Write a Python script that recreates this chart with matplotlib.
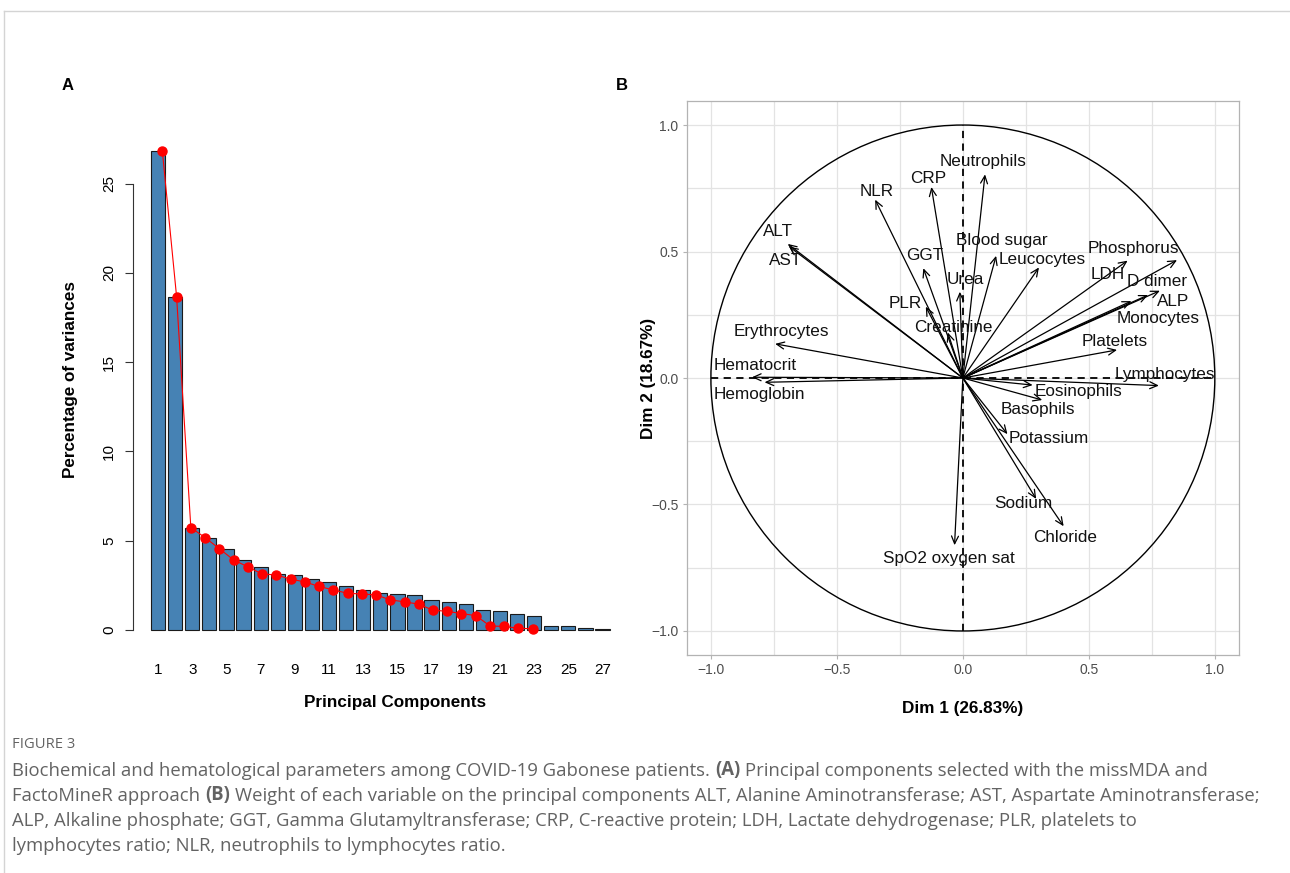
import matplotlib.pyplot as plt
import matplotlib.patches as mpatches
import numpy as np

plt.rcParams['font.family'] = ['Liberation Sans', 'DejaVu Sans']

# panel A: percentage of variance per principal component
components = np.arange(1, 28)
variances = [26.83, 18.67, 5.73, 5.17, 4.55, 3.92, 3.53, 3.13, 3.08, 2.84,
             2.69, 2.43, 2.24, 2.05, 2.01, 1.96, 1.68, 1.57, 1.44, 1.10,
             1.04, 0.91, 0.80, 0.22, 0.19, 0.09, 0.06]

# panel B: variable coordinates on Dim 1 / Dim 2
variables = ["Neutrophils", "CRP", "NLR", "ALT", "AST", "GGT", "Blood sugar",
             "Leucocytes", "Urea", "PLR", "Creatinine", "Phosphorus", "LDH",
             "D dimer", "ALP", "Monocytes", "Platelets", "Erythrocytes",
             "Hematocrit", "Hemoglobin", "Lymphocytes", "Eosinophils",
             "Basophils", "Potassium", "Sodium", "Chloride", "SpO2 oxygen sat"]
dim1 = [0.088, -0.125, -0.348, -0.695, -0.690, -0.157, 0.132, 0.302, -0.012,
        -0.147, -0.060, 0.850, 0.654, 0.782, 0.735, 0.669, 0.612, -0.745,
        -0.837, -0.787, 0.778, 0.277, 0.315, 0.177, 0.291, 0.400, -0.033]
dim2 = [0.805, 0.755, 0.705, 0.530, 0.520, 0.434, 0.483, 0.437, 0.341,
        0.282, 0.180, 0.466, 0.464, 0.345, 0.328, 0.304, 0.111, 0.135,
        0.003, -0.017, -0.030, -0.028, -0.087, -0.222, -0.478, -0.586, -0.661]
# where the (repelled) labels sit
label_x = [0.082, -0.139, -0.343, -0.735, -0.705, -0.151, 0.153, 0.316, 0.008,
           -0.230, -0.036, 0.676, 0.577, 0.769, 0.835, 0.775, 0.603, -0.719,
           -0.826, -0.809, 0.800, 0.458, 0.298, 0.340, 0.241, 0.404, -0.054]
label_y = [0.857, 0.788, 0.739, 0.579, 0.466, 0.483, 0.543, 0.469, 0.390,
           0.295, 0.199, 0.510, 0.411, 0.381, 0.304, 0.236, 0.144, 0.185,
           0.049, -0.066, 0.012, -0.053, -0.123, -0.239, -0.497, -0.630, -0.714]

W, H = 1290, 873
fig = plt.figure(figsize=(W / 100, H / 100), dpi=100)


def px_axes(left, top, right, bottom):
    return fig.add_axes([left / W, 1 - bottom / H, (right - left) / W, (bottom - top) / H])


# page frame
fig.add_artist(plt.Line2D([4 / W, 1], [1 - 11 / H] * 2, color='#d4d4d4', lw=1))
fig.add_artist(plt.Line2D([4 / W] * 2, [0, 1 - 11 / H], color='#d4d4d4', lw=1))

# ---- panel A ----
ax1 = px_axes(132.6, 132, 628, 649)
bar_x = 0.7 + 1.2 * (components - 1)
ax1.bar(bar_x, variances, width=1, color='#4682B4', edgecolor='#1a1a1a', lw=0.8, zorder=2)
ax1.plot(components, variances, color='red', lw=0.8, marker='o', ms=6.5, mec='red', zorder=3)
ax1.set_xlim(-1.088, 33.688)
ax1.set_ylim(-1.073, 27.9)
for s in ['top', 'right', 'bottom']:
    ax1.spines[s].set_visible(False)
ax1.spines['left'].set_bounds(0, 25)
ax1.spines['left'].set_color('#333333')
ax1.set_yticks([0, 5, 10, 15, 20, 25])
ax1.tick_params(axis='y', length=6, color='#333333', labelsize=11, pad=6)
for lab in ax1.get_yticklabels():
    lab.set_rotation(90)
    lab.set_va('center')
ax1.set_xticks(bar_x[::2])
ax1.set_xticklabels([str(c) for c in components[::2]])
ax1.tick_params(axis='x', length=0, labelsize=11, pad=10)
fig.text(70 / W, 1 - 380 / H, 'Percentage of variances', rotation=90, fontsize=12.3,
         fontweight='bold', ha='center', va='center')
fig.text(395 / W, 1 - 702 / H, 'Principal Components', fontsize=12.3,
         fontweight='bold', ha='center', va='center')
fig.text(68 / W, 1 - 86 / H, 'A', fontsize=12, fontweight='bold', ha='center', va='center')

# ---- panel B ----
ax2 = px_axes(686.7, 101, 1239, 655)
ax2.set_xlim(-1.096, 1.096)
ax2.set_ylim(-1.095, 1.095)
ticks = [-1.0, -0.5, 0.0, 0.5, 1.0]
minor = [-0.75, -0.25, 0.25, 0.75]
ax2.set_xticks(ticks)
ax2.set_yticks(ticks)
ax2.set_xticks(minor, minor=True)
ax2.set_yticks(minor, minor=True)
ax2.grid(True, which='both', color='#e3e3e3', lw=0.9, zorder=0)
ax2.set_axisbelow(True)
ax2.tick_params(which='major', length=3, color='#b3b3b3', labelsize=10,
                labelcolor='#4d4d4d', pad=3)
ax2.tick_params(which='minor', length=0)
ax2.xaxis.set_major_formatter(plt.FuncFormatter(lambda v, p: f'{v:.1f}'.replace('-', '\u2212')))
ax2.yaxis.set_major_formatter(plt.FuncFormatter(lambda v, p: f'{v:.1f}'.replace('-', '\u2212')))
for s in ax2.spines.values():
    s.set_color('#b3b3b3')
    s.set_lw(0.9)

ax2.add_patch(mpatches.Circle((0, 0), 1, fill=False, ec='black', lw=1.0, zorder=2))
ax2.plot([-1, 1], [0, 0], color='black', lw=1.3, ls=(0, (4, 3)), zorder=2)
ax2.plot([0, 0], [-1, 1], color='black', lw=1.3, ls=(0, (4, 3)), zorder=2)

for name, x, y, lx, ly in zip(variables, dim1, dim2, label_x, label_y):
    ax2.annotate('', xy=(x, y), xytext=(0, 0),
                 arrowprops=dict(arrowstyle='->,head_length=0.55,head_width=0.25',
                                 lw=0.9, color='black', shrinkA=0, shrinkB=0),
                 zorder=3)
    ax2.text(lx, ly, name, fontsize=12.3, ha='center', va='center', color='#111111', zorder=4)

fig.text(963 / W, 1 - 708 / H, 'Dim 1 (26.83%)', fontsize=12.3, fontweight='bold',
         ha='center', va='center')
fig.text(648 / W, 1 - 378 / H, 'Dim 2 (18.67%)', fontsize=12.3, fontweight='bold',
         rotation=90, ha='center', va='center')
fig.text(622 / W, 1 - 86 / H, 'B', fontsize=12, fontweight='bold', ha='center', va='center')

# ---- caption ----
cax = fig.add_axes([0, 0, 1, 1])
cax.axis('off')
cap_font = ['Open Sans', 'DejaVu Sans']
cap_color = '#636363'
cap_size = 13.35

fig.text(12 / W, 1 - 745 / H, 'FIGURE 3', fontsize=10.6, color=cap_color,
         family=cap_font, va='center')

caption = [
    [("Biochemical and hematological parameters among COVID-19 Gabonese patients.", 'normal'),
     ("(A)", 'bold'),
     ("Principal components selected with the missMDA and", 'normal')],
    [("FactoMineR approach", 'normal'),
     ("(B)", 'bold'),
     ("Weight of each variable on the principal components ALT, Alanine Aminotransferase; "
      "AST, Aspartate Aminotransferase;", 'normal')],
    [("ALP, Alkaline phosphate; GGT, Gamma Glutamyltransferase; CRP, C-reactive protein; "
      "LDH, Lactate dehydrogenase; PLR, platelets to", 'normal')],
    [("lymphocytes ratio; NLR, neutrophils to lymphocytes ratio.", 'normal')],
]
line_y = [776, 801, 826, 851]

for parts, y in zip(caption, line_y):
    prev = cax.text(12 / W, 1 - y / H, parts[0][0], fontsize=cap_size, color=cap_color,
                    family=cap_font, fontweight=parts[0][1], va='baseline',
                    transform=cax.transAxes)
    for txt, weight in parts[1:]:
        prev = cax.annotate(txt, xy=(1, 0), xycoords=prev, xytext=(3.6, 0),
                            textcoords='offset points', fontsize=cap_size, color=cap_color,
                            family=cap_font, fontweight=weight, va='bottom', ha='left')

fig.savefig('out.png', dpi=100)
